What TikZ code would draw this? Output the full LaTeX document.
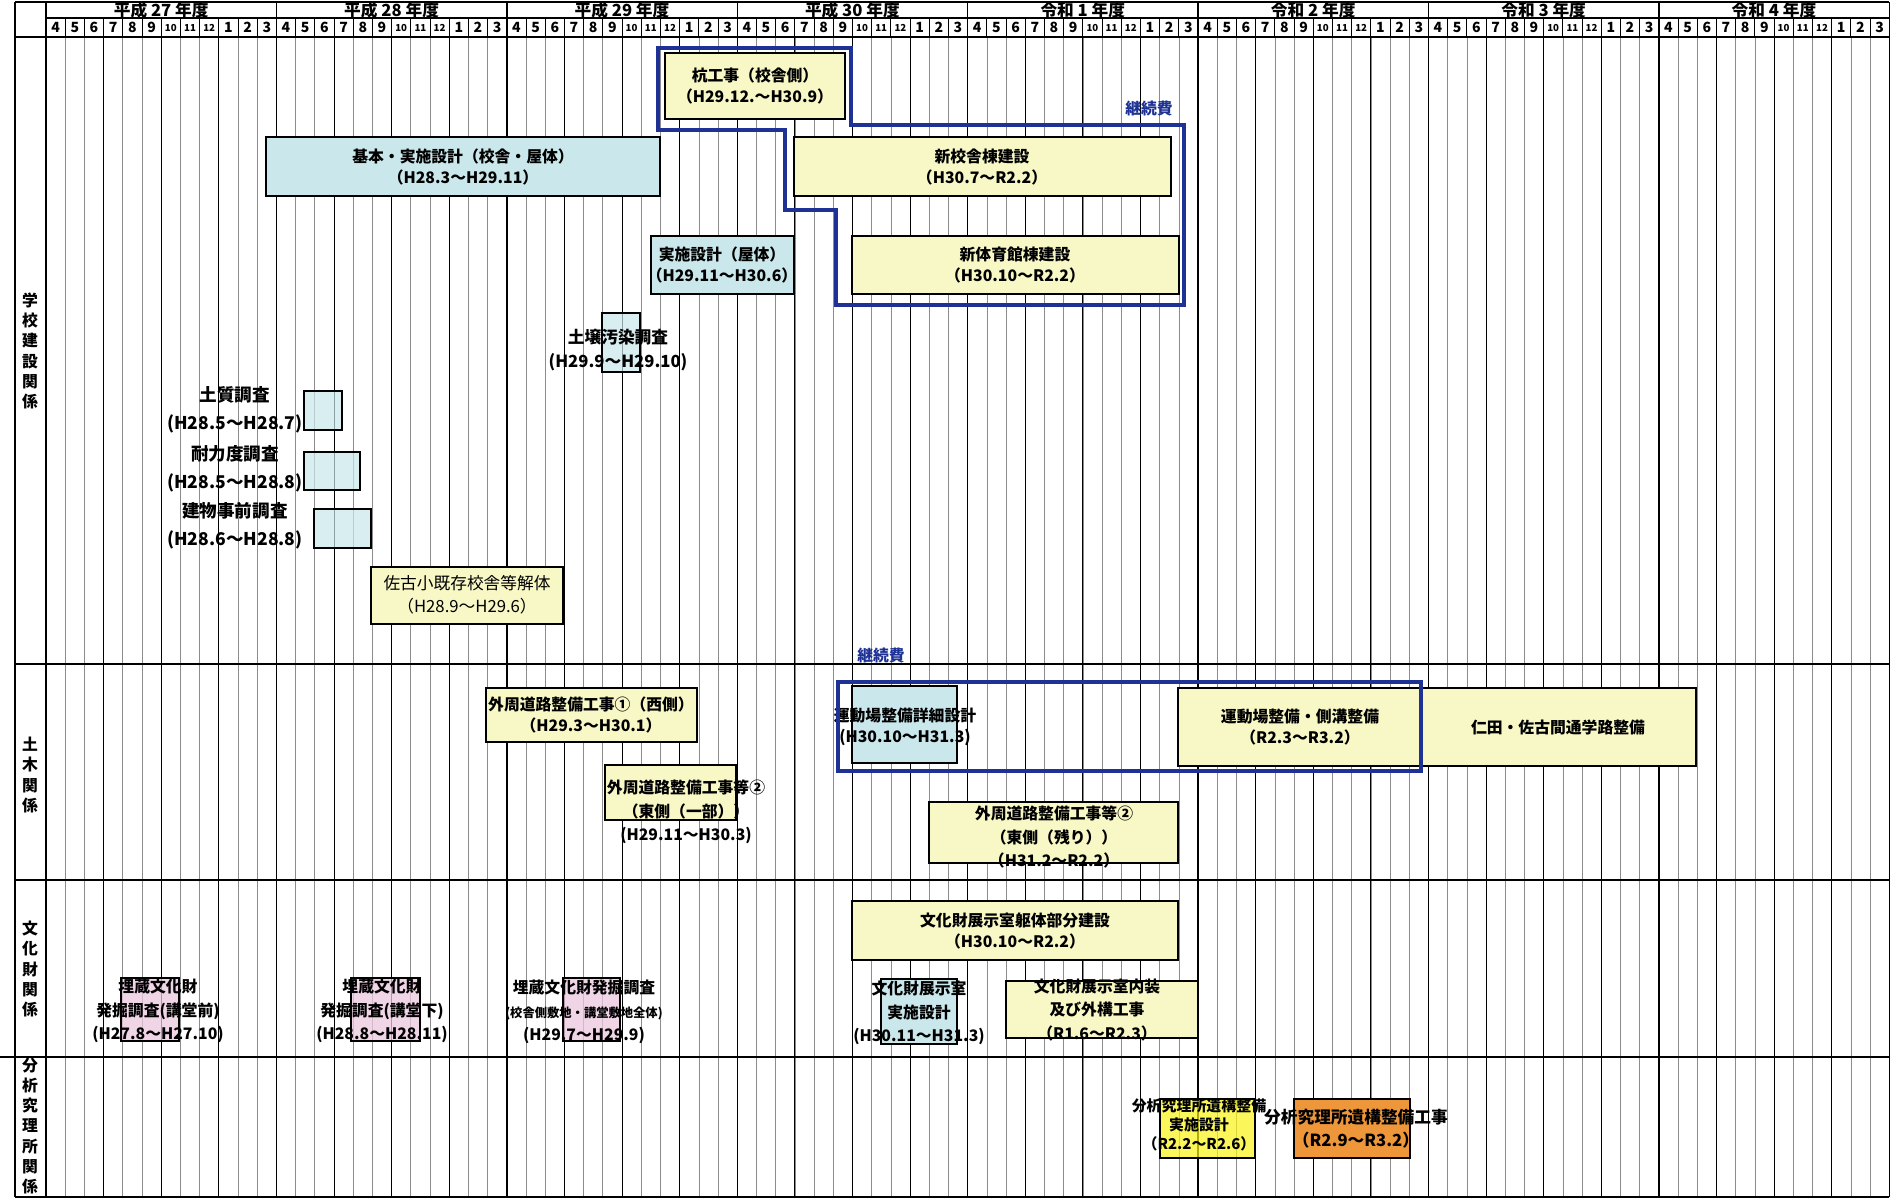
\documentclass[tikz,border=0pt]{standalone}
\usepackage{fontspec}
\setmainfont{Noto Sans CJK JP}

\definecolor{paleblue}{RGB}{202,232,236}
\definecolor{paleyellow}{RGB}{248,247,198}
\definecolor{palepink}{RGB}{236,200,224}
\definecolor{brightyellow}{RGB}{250,244,20}
\definecolor{warmorange}{RGB}{238,150,58}
\definecolor{frameblue}{RGB}{30,50,150}

\begin{document}
\begin{tikzpicture}[
		x=0.02cm, y=-0.02cm,
		line join=miter,
		monthline/.style={black!45, line width=0.35pt},
		quarterline/.style={black, line width=0.55pt},
		yearline/.style={black, line width=0.8pt},
		secline/.style={black, line width=0.8pt},
		task/.style={draw=black, line width=0.8pt},
		bluetask/.style={task, fill=paleblue},
		yeltask/.style={task, fill=paleyellow},
		pinktask/.style={task, fill=palepink, fill opacity=0.75},
		seethru/.style={fill opacity=0.7},
		keizoku/.style={draw=frameblue, line width=1.8pt},
		lab/.style={font=\bfseries\fontsize{9}{12}\selectfont, align=center, inner sep=0pt},
		lablong/.style={font=\bfseries\fontsize{9}{13.4}\selectfont, align=center, inner sep=0pt},
		sidelab/.style={font=\bfseries\fontsize{10}{16}\selectfont, align=center, inner sep=0pt, anchor=east},
		keilab/.style={font=\bfseries\fontsize{9}{10}\selectfont, text=frameblue, inner sep=0pt},
		rowlab/.style={font=\bfseries\fontsize{9}{11.5}\selectfont, align=center, inner sep=0pt},
		yearlab/.style={font=\bfseries\fontsize{9.5}{10}\selectfont, inner sep=0pt},
		monlab/.style={font=\bfseries\fontsize{8}{9}\selectfont, inner sep=0pt}
	]
	
	% Parameters
	\def\xo{46}     % first month
	\def\mw{19.2}   % month width
	\def\xl{15}     % left edge
	\def\xr{1889.2} % right edge
	\def\yhead{37}  % bottom of header
	\def\yend{1197} % bottom edge
	
	\fill[white] (0,0) rectangle (1900,1200);
	\useasboundingbox (0,0) rectangle (1900,1200);
	
	% Month grid
	\foreach \m in {0,...,96} {
		\draw[monthline] ({\xo+\m*\mw},\yhead) -- ({\xo+\m*\mw},\yend);
		\draw[black, line width=0.4pt] ({\xo+\m*\mw},18) -- ({\xo+\m*\mw},\yhead);
	}
	\foreach \m in {0,3,...,96} {
		\draw[quarterline] ({\xo+\m*\mw},\yhead) -- ({\xo+\m*\mw},\yend);
	}
	\foreach \m in {0,12,...,96} {
		\draw[yearline] ({\xo+\m*\mw},2) -- ({\xo+\m*\mw},\yend);
	}
	
	% Rows
	\draw[secline] (\xl,2) -- (\xr,2);
	\draw[secline] (\xo,18) -- (\xr,18);
	\draw[secline] (\xl,\yhead) -- (\xr,\yhead);
	\draw[secline] (\xl,664) -- (\xr,664);
	\draw[secline] (\xl,880) -- (\xr,880);
	\draw[secline] (0,1057) -- (\xr,1057);
	\draw[secline] (\xl,\yend) -- (\xr,\yend);
	\draw[secline] (\xl,2) -- (\xl,\yend);
	
	% Header
	\foreach \era/\num [count=\k from 0] in {平成/27,平成/28,平成/29,平成/30,令和/1,令和/2,令和/3,令和/4} {
		\node[yearlab] (fy\k) at ({\xo+(\k*12+6)*\mw},10) {\era\ \num\ 年度};
	}
	\foreach \k in {0,...,7} {
		\foreach \mo [count=\j from 0] in {4,5,6,7,8,9,10,11,12,1,2,3} {
			\node[monlab] (mon\k-\j) at ({\xo+(\k*12+\j+0.5)*\mw},27.5) {\ifnum\mo>9 \fontsize{5.5}{6}\selectfont\fi\mo};
		}
	}
	
	% Row labels
	\node[rowlab] (secgakko) at (30,351) {学\\校\\建\\設\\関\\係};
	\node[rowlab] (secdoboku) at (30,775) {土\\木\\関\\係};
	\node[rowlab] (secbunka) at (30,969) {文\\化\\財\\関\\係};
	\node[rowlab] (secbunseki) at (30,1126) {分\\析\\究\\理\\所\\関\\係};
	
	% School building
	\draw[yeltask] (665,53) rectangle (845,119);
	\node[lab] (kui) at (755,86) {杭工事（校舎側）\\（H29.12.～H30.9）};
	\draw[bluetask] (266,137) rectangle (660,196);
	\node[lab] (kihon) at (463,167) {基本・実施設計（校舎・屋体）\\（H28.3～H29.11）};
	\draw[yeltask] (794,137) rectangle (1171,196);
	\node[lab] (kosha) at (982,167) {新校舎棟建設\\（H30.7～R2.2）};
	\draw[yeltask] (852,236) rectangle (1179,294);
	\node[lab] (taiiku) at (1015,265) {新体育館棟建設\\（H30.10～R2.2）};
	\draw[bluetask] (651,236) rectangle (794,294);
	\node[lab] (jisshi) at (722,265) {実施設計（屋体）\\（H29.11～H30.6）};
	\draw[bluetask, seethru] (602,313) rectangle (640,372);
	\node[sidelab, anchor=center, font=\bfseries\fontsize{9.5}{14}\selectfont] (dojo) at (618,350) {土壌汚染調査\\(H29.9～H29.10)};
	\draw[bluetask, seethru] (304,391) rectangle (342,430);
	\node[sidelab] (doshitsu) at (303,410) {土質調査\\(H28.5～H28.7)};
	\draw[bluetask, seethru] (304,452) rectangle (360,490);
	\node[sidelab] (tairyoku) at (303,469) {耐力度調査\\(H28.5～H28.8)};
	\draw[bluetask, seethru] (314,509) rectangle (371,548);
	\node[sidelab] (tatemono) at (303,526) {建物事前調査\\(H28.6～H28.8)};
	\draw[yeltask] (371,567) rectangle (563,624);
	\node[lab, font=\fontsize{9.5}{13}\selectfont] (kaitai) at (467,595) {佐古小既存校舎等解体\\（H28.9～H29.6）};
	
	% Civil works
	\draw[yeltask] (486,688) rectangle (697,742);
	\node[lab] (gaishu1) at (591,715) {外周道路整備工事①（西側）\\（H29.3～H30.1）};
	\draw[yeltask] (605,765) rectangle (736,820);
	\node[lablong] (gaishu2) at (686,812) {外周道路整備工事等②\\（東側（一部））\\(H29.11～H30.3)};
	\draw[bluetask] (852,686) rectangle (957,763);
	\node[lab] (undosekkei) at (905,727) {運動場整備詳細設計\\(H30.10～H31.3)};
	\draw[yeltask] (1178,688) rectangle (1421,766);
	\node[lab] (undosho) at (1300,727) {運動場整備・側溝整備\\（R2.3～R3.2）};
	\draw[yeltask] (1421,688) rectangle (1696,766);
	\node[lab] (nitta) at (1558,727) {仁田・佐古間通学路整備};
	\draw[yeltask] (929,802) rectangle (1178,863);
	\node[lablong] (gaishu3) at (1054,837) {外周道路整備工事等②\\（東側（残り））\\（H31.2～R2.2）};
	
	% Cultural property
	\draw[yeltask] (852,901) rectangle (1178,960);
	\node[lab] (tenjikutai) at (1015,931) {文化財展示室躯体部分建設\\（H30.10～R2.2）};
	\draw[bluetask] (881,979) rectangle (957,1044);
	\node[lablong] (tenjisekkei) at (919,1013) {文化財展示室\\実施設計\\(H30.11～H31.3)};
	\draw[yeltask] (1006,981) rectangle (1198,1038);
	\node[lablong] (tennaiso) at (1097,1010) {文化財展示室内装\\及び外構工事\\（R1.6～R2.3）};
	\draw[pinktask] (121,978) rectangle (179,1041);
	\node[lablong] (maizo1) at (158,1011) {埋蔵文化財\\発掘調査(講堂前)\\(H27.8～H27.10)};
	\draw[pinktask] (351,978) rectangle (420,1041);
	\node[lablong] (maizo2) at (382,1011) {埋蔵文化財\\発掘調査(講堂下)\\(H28.8～H28.11)};
	\draw[pinktask] (563,978) rectangle (620,1041);
	\node[lablong] (maizo3) at (584,1012) {埋蔵文化財発掘調査\\{\fontsize{7}{9}\selectfont (校舎側敷地・講堂敷地全体)}\\(H29.7～H29.9)};
	
	% Analysis institute
	\draw[task, fill=brightyellow, seethru] (1160,1099) rectangle (1255,1158);
	\node[lab, font=\bfseries\fontsize{8.5}{11}\selectfont] (bunseki1) at (1199,1125) {分析究理所遺構整備\\実施設計\\（R2.2～R2.6）};
	\draw[task, fill=warmorange] (1294,1099) rectangle (1410,1158);
	\node[lab, font=\bfseries\fontsize{9.5}{13}\selectfont] (bunseki2) at (1356,1129) {分析究理所遺構整備工事\\（R2.9～R3.2）};
	
	% Continuing expenses
	\draw[keizoku] (658,48) -- (851,48) -- (851,125) -- (1184,125) -- (1184,305)
	-- (836,305) -- (836,210) -- (785,210) -- (785,130) -- (658,130) -- cycle;
	\node[keilab] (keizoku1) at (1149,109) {継続費};
	\draw[keizoku] (838,682) rectangle (1421,771);
	\node[keilab] (keizoku2) at (881,656) {継続費};
	
\end{tikzpicture}
\end{document}
